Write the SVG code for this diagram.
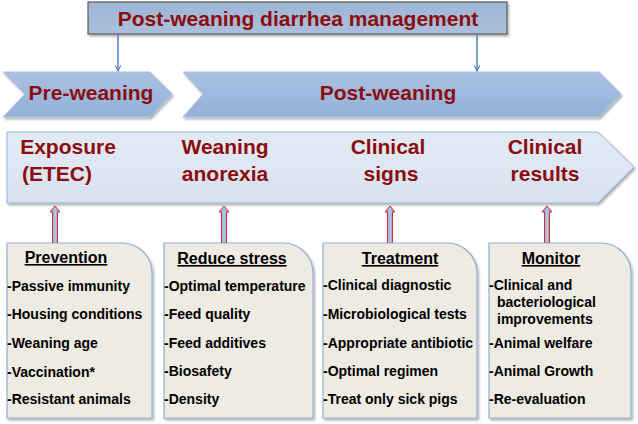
<svg xmlns="http://www.w3.org/2000/svg" width="638" height="424" viewBox="0 0 638 424">
<defs>
<linearGradient id="gTop" x1="0" y1="0" x2="0" y2="1"><stop offset="0" stop-color="#9fb5d6"/><stop offset="1" stop-color="#aabfdd"/></linearGradient>
<linearGradient id="gChev" x1="0" y1="0" x2="0" y2="1"><stop offset="0" stop-color="#a9c0e2"/><stop offset="1" stop-color="#94b1da"/></linearGradient>
<linearGradient id="gBar" x1="0" y1="0" x2="0" y2="1"><stop offset="0" stop-color="#e2eaf4"/><stop offset="1" stop-color="#d8e2f0"/></linearGradient>
<linearGradient id="gUp" x1="0" y1="0" x2="1" y2="0"><stop offset="0" stop-color="#5b84c4"/><stop offset="0.5" stop-color="#b9cbe6"/><stop offset="1" stop-color="#5b84c4"/></linearGradient>
<filter id="sh" x="-5%" y="-5%" width="115%" height="120%"><feDropShadow dx="1.5" dy="2" stdDeviation="1.2" flood-color="#000" flood-opacity="0.3"/></filter>
<marker id="ah" viewBox="0 0 10 10" refX="9" refY="5" markerWidth="7" markerHeight="7" orient="auto" markerUnits="userSpaceOnUse"><path d="M1,1 L9,5 L1,9" fill="none" stroke="#4f7fc0" stroke-width="1.5"/></marker>
</defs>
<style>
.title{font-family:"Liberation Sans",Arial,sans-serif;font-weight:bold;fill:#8b0d0d;text-anchor:middle}
.t21{font-size:21px}
.hd{font-family:"Liberation Sans",Arial,sans-serif;font-weight:bold;font-size:16px;fill:#000;text-anchor:middle;text-decoration:underline}
.it{font-family:"Liberation Sans",Arial,sans-serif;font-weight:bold;font-size:14px;fill:#000}
.box{fill:#eeebe2;stroke:#8fb0d8;stroke-width:1.2}
.chev{fill:url(#gChev);stroke:#a9c2e4;stroke-width:1}
.up{fill:url(#gUp);stroke:#e02a2a;stroke-width:1}
.conn{stroke:#4f7fc0;stroke-width:1.5;fill:none}
</style>

<g id="top">
<rect x="88" y="2" width="419" height="32" fill="url(#gTop)" stroke="#5a5a5a" stroke-width="1.2" filter="url(#sh)"/>
<text class="title t21" x="298" y="26">Post-weaning diarrhea management</text>
</g>

<g id="pre-weaning">
<polygon class="chev" points="3,72 150,72 172,94 150,117 3,117 25,94" filter="url(#sh)"/>
<text class="title t21" x="91" y="100">Pre-weaning</text>
</g>

<g id="post-weaning">
<polygon class="chev" points="183,72 599,72 621,94 599,117 183,117 203,94" filter="url(#sh)"/>
<text class="title t21" x="388" y="100">Post-weaning</text>
</g>

<g id="timeline">
<polygon points="7,132 598,132 634,167 598,203 7,203" fill="url(#gBar)" stroke="#95b3d9" stroke-width="1" filter="url(#sh)"/>
<text class="title t21" x="68" y="154">Exposure</text>
<text class="title t21" x="57" y="181">(ETEC)</text>
<text class="title t21" x="225" y="154">Weaning</text>
<text class="title t21" x="225" y="181">anorexia</text>
<text class="title t21" x="388" y="154">Clinical</text>
<text class="title t21" x="391" y="181">signs</text>
<text class="title t21" x="545" y="154">Clinical</text>
<text class="title t21" x="545" y="181">results</text>
</g>

<g id="connectors">
<line class="conn" x1="118" y1="34" x2="118" y2="71" marker-end="url(#ah)"/>
<line class="conn" x1="477" y1="34" x2="477" y2="71" marker-end="url(#ah)"/>
<polygon class="up" points="55,206 60,212 57.5,212 57.5,243 52.5,243 52.5,212 50,212"/>
<polygon class="up" points="224,206 229,212 226.5,212 226.5,243 221.5,243 221.5,212 219,212"/>
<polygon class="up" points="390,206 395,212 392.5,212 392.5,243 387.5,243 387.5,212 385,212"/>
<polygon class="up" points="547,206 552,212 549.5,212 549.5,243 544.5,243 544.5,212 542,212"/>
</g>

<g id="prevention">
<path class="box" d="M7,243 H122 A30,30 0 0 1 152,273 V418 H7 Z" filter="url(#sh)"/>
<text class="hd" x="66" y="263">Prevention</text>
<text class="it" x="7" y="291">-Passive immunity</text>
<text class="it" x="7" y="319">-Housing conditions</text>
<text class="it" x="7" y="348">-Weaning age</text>
<text class="it" x="7" y="377">-Vaccination*</text>
<text class="it" x="7" y="404">-Resistant animals</text>
</g>

<g id="reduce-stress">
<path class="box" d="M164,243 H283 A30,30 0 0 1 313,273 V418 H164 Z" filter="url(#sh)"/>
<text class="hd" x="232" y="264">Reduce stress</text>
<text class="it" x="164" y="291">-Optimal temperature</text>
<text class="it" x="164" y="319">-Feed quality</text>
<text class="it" x="164" y="348">-Feed additives</text>
<text class="it" x="164" y="376">-Biosafety</text>
<text class="it" x="164" y="404">-Density</text>
</g>

<g id="treatment">
<path class="box" d="M323,243 H447 A30,30 0 0 1 477,273 V418 H323 Z" filter="url(#sh)"/>
<text class="hd" x="400" y="264">Treatment</text>
<text class="it" x="323" y="290">-Clinical diagnostic</text>
<text class="it" x="323" y="319">-Microbiological tests</text>
<text class="it" x="323" y="348">-Appropriate antibiotic</text>
<text class="it" x="323" y="376">-Optimal regimen</text>
<text class="it" x="323" y="404">-Treat only sick pigs</text>
</g>

<g id="monitor">
<path class="box" d="M489,243 H601 A30,30 0 0 1 631,273 V418 H489 Z" filter="url(#sh)"/>
<text class="hd" x="551" y="264">Monitor</text>
<text class="it" x="489" y="290">-Clinical and</text>
<text class="it" x="497" y="307">bacteriological</text>
<text class="it" x="497" y="324">improvements</text>
<text class="it" x="489" y="348">-Animal welfare</text>
<text class="it" x="489" y="376">-Animal Growth</text>
<text class="it" x="489" y="404">-Re-evaluation</text>
</g>
</svg>
